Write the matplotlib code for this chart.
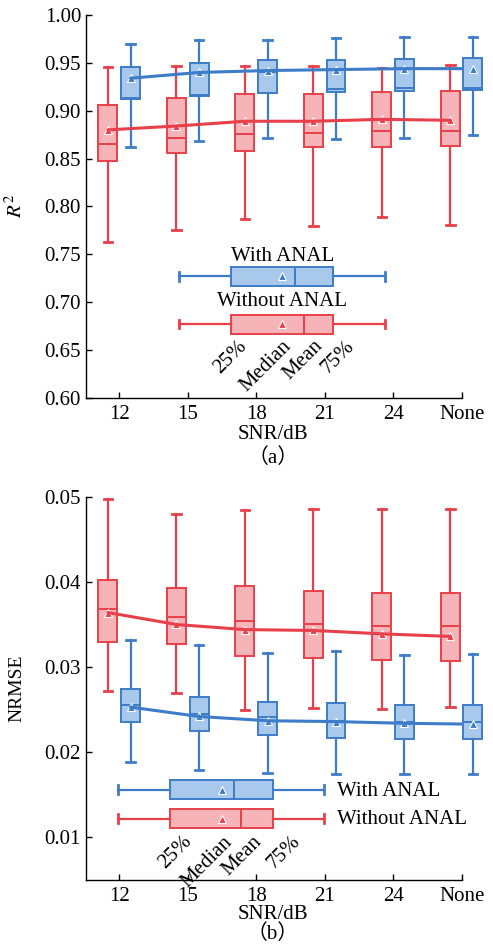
import matplotlib
matplotlib.use('Agg')
import matplotlib.pyplot as plt

plt.rcParams['font.family'] = ['Liberation Serif', 'Noto Sans CJK SC']
plt.rcParams['mathtext.fontset'] = 'stix'

RED = '#E8404A'
RED_FILL = '#F6B3B8'
BLUE = '#3D7CC9'
BLUE_FILL = '#A8C8EC'

snr_labels = ['12', '15', '18', '21', '24', 'None']

# R^2, without ANAL (red)
r2_red_lo = [0.763, 0.775, 0.787, 0.780, 0.789, 0.781]
r2_red_q1 = [0.847, 0.856, 0.858, 0.862, 0.862, 0.863]
r2_red_med = [0.865, 0.872, 0.876, 0.877, 0.879, 0.879]
r2_red_q3 = [0.906, 0.913, 0.917, 0.917, 0.920, 0.921]
r2_red_hi = [0.946, 0.947, 0.947, 0.947, 0.945, 0.948]
r2_red_mean = [0.880, 0.884, 0.889, 0.889, 0.891, 0.890]

# R^2, with ANAL (blue)
r2_blue_lo = [0.862, 0.868, 0.872, 0.870, 0.872, 0.875]
r2_blue_q1 = [0.912, 0.915, 0.919, 0.920, 0.921, 0.922]
r2_blue_med = [0.913, 0.916, 0.941, 0.923, 0.924, 0.924]
r2_blue_q3 = [0.946, 0.950, 0.953, 0.953, 0.954, 0.955]
r2_blue_hi = [0.970, 0.974, 0.974, 0.976, 0.977, 0.977]
r2_blue_mean = [0.934, 0.940, 0.942, 0.943, 0.944, 0.944]

# NRMSE, without ANAL (red)
nr_red_lo = [0.0272, 0.0269, 0.0250, 0.0252, 0.0251, 0.0253]
nr_red_q1 = [0.0329, 0.0327, 0.0313, 0.0311, 0.0308, 0.0307]
nr_red_med = [0.0368, 0.0359, 0.0354, 0.0350, 0.0348, 0.0348]
nr_red_q3 = [0.0402, 0.0393, 0.0395, 0.0389, 0.0387, 0.0387]
nr_red_hi = [0.0497, 0.0480, 0.0484, 0.0486, 0.0486, 0.0485]
nr_red_mean = [0.0364, 0.0350, 0.0344, 0.0343, 0.0339, 0.0336]

# NRMSE, with ANAL (blue)
nr_blue_lo = [0.0188, 0.0179, 0.0176, 0.0174, 0.0175, 0.0174]
nr_blue_q1 = [0.0235, 0.0225, 0.0220, 0.0217, 0.0216, 0.0215]
nr_blue_med = [0.0256, 0.0245, 0.0241, 0.0237, 0.0236, 0.0236]
nr_blue_q3 = [0.0274, 0.0265, 0.0259, 0.0258, 0.0256, 0.0255]
nr_blue_hi = [0.0332, 0.0326, 0.0317, 0.0319, 0.0314, 0.0315]
nr_blue_mean = [0.0253, 0.0242, 0.0237, 0.0236, 0.0234, 0.0233]

# legend key boxes (x in category units): lo, q1, med, mean, q3, hi
key_a_blue = [0.876, 1.626, 2.56, 2.38, 3.124, 3.879]
key_a_red = [0.876, 1.626, 2.70, 2.38, 3.124, 3.879]
key_b_blue = [-0.015, 0.74, 1.674, 1.495, 2.24, 2.99]
key_b_red = [-0.015, 0.74, 1.772, 1.495, 2.24, 2.99]
key_names = ['25%', 'Median', 'Mean', '75%']

FS = 15
OFF = 0.165
BW = 0.277


def _stats(lo, q1, med, q3, hi, mean):
    return [dict(whislo=a, q1=b, med=c, q3=d, whishi=e, mean=f)
            for a, b, c, d, e, f in zip(lo, q1, med, q3, hi, mean)]


def _draw(ax, positions, stats, color, fill, width, orientation='vertical', zorder=3):
    art = ax.bxp(stats, positions=positions, widths=width, patch_artist=True,
                 showmeans=True, showfliers=False, orientation=orientation,
                 manage_ticks=False,
                 boxprops=dict(facecolor=fill, edgecolor=color, linewidth=1.4),
                 medianprops=dict(color=color, linewidth=1.4),
                 whiskerprops=dict(color=color, linewidth=1.6),
                 capprops=dict(color=color, linewidth=2.0),
                 meanprops=dict(marker='^', markerfacecolor=color, markeredgecolor='white',
                                markeredgewidth=0.8, markersize=5.5),
                 capwidths=width * 0.45)
    for items in art.values():
        for a in items:
            a.set_clip_on(False)
            a.set_zorder(zorder)
    return art


def _key(ax, vals, y, color, fill, height):
    lo, q1, med, mean, q3, hi = vals
    st = [dict(whislo=lo, q1=q1, med=med, q3=q3, whishi=hi, mean=mean)]
    _draw(ax, [y], st, color, fill, height, orientation='horizontal')


def _style(ax):
    for s in ['top', 'right']:
        ax.spines[s].set_visible(False)
    for s in ['left', 'bottom']:
        ax.spines[s].set_linewidth(1.0)
    ax.tick_params(direction='in', length=4, width=1.0, labelsize=FS)
    ax.tick_params(axis='x', pad=5)
    ax.tick_params(axis='y', pad=3.5)
    ax.set_xlim(-0.486, 5)
    ax.set_xticks(range(len(snr_labels)))
    ax.set_xticklabels(snr_labels)


fig = plt.figure(figsize=(4.93, 9.47), dpi=100)
ax1 = fig.add_axes([0.1744, 0.580, 0.762, 0.4041])
ax2 = fig.add_axes([0.1744, 0.0707, 0.762, 0.4048])

x = list(range(len(snr_labels)))
xr = [i - OFF for i in x]
xb = [i + OFF for i in x]

# (a) R^2
_draw(ax1, xr, _stats(r2_red_lo, r2_red_q1, r2_red_med, r2_red_q3, r2_red_hi, r2_red_mean), RED, RED_FILL, BW)
_draw(ax1, xb, _stats(r2_blue_lo, r2_blue_q1, r2_blue_med, r2_blue_q3, r2_blue_hi, r2_blue_mean), BLUE, BLUE_FILL, BW)
ax1.plot(xr, r2_red_mean, color=RED, lw=2.2, zorder=4, solid_capstyle='round')
ax1.plot(xb, r2_blue_mean, color=BLUE, lw=2.2, zorder=4, solid_capstyle='round')
_style(ax1)
ax1.set_ylim(0.60, 1.00)
ax1.set_yticks([0.60, 0.65, 0.70, 0.75, 0.80, 0.85, 0.90, 0.95, 1.00])
ax1.set_yticklabels([f'{v:.2f}' for v in ax1.get_yticks()])
_key(ax1, key_a_blue, 0.727, BLUE, BLUE_FILL, 0.0199)
_key(ax1, key_a_red, 0.677, RED, RED_FILL, 0.0199)
ax1.text(2.38, 0.748, 'With ANAL', fontsize=FS, ha='center', va='center')
ax1.text(2.38, 0.701, 'Without ANAL', fontsize=FS, ha='center', va='center')
for name, xp in zip(key_names, [1.72, 2.37, 2.84, 3.29]):
    ax1.text(xp, 0.664, name, fontsize=FS, rotation=45, rotation_mode='anchor',
             ha='right', va='top')
ax1.set_ylabel(r'$R^2$', fontsize=FS)
ax1.yaxis.set_label_coords(-0.157, 0.5)
ax1.set_xlabel('SNR/dB', fontsize=FS)
ax1.xaxis.set_label_coords(0.497, -0.072)
ax1.text(0.497, -0.158, '（a）', transform=ax1.transAxes, fontsize=FS,
         ha='center', va='center')

# (b) NRMSE
_draw(ax2, xr, _stats(nr_red_lo, nr_red_q1, nr_red_med, nr_red_q3, nr_red_hi, nr_red_mean), RED, RED_FILL, BW)
_draw(ax2, xb, _stats(nr_blue_lo, nr_blue_q1, nr_blue_med, nr_blue_q3, nr_blue_hi, nr_blue_mean), BLUE, BLUE_FILL, BW)
ax2.plot(xr, nr_red_mean, color=RED, lw=2.2, zorder=4, solid_capstyle='round')
ax2.plot(xb, nr_blue_mean, color=BLUE, lw=2.2, zorder=4, solid_capstyle='round')
_style(ax2)
ax2.set_ylim(0.005, 0.05)
ax2.set_yticks([0.01, 0.02, 0.03, 0.04, 0.05])
ax2.set_yticklabels([f'{v:.2f}' for v in ax2.get_yticks()])
_key(ax2, key_b_blue, 0.0156, BLUE, BLUE_FILL, 0.00224)
_key(ax2, key_b_red, 0.0122, RED, RED_FILL, 0.00224)
ax2.text(3.18, 0.01545, 'With ANAL', fontsize=FS, ha='left', va='center')
ax2.text(3.18, 0.0121, 'Without ANAL', fontsize=FS, ha='left', va='center')
for name, xp in zip(key_names, [0.92, 1.51, 1.94, 2.50]):
    ax2.text(xp, 0.0106, name, fontsize=FS, rotation=45, rotation_mode='anchor',
             ha='right', va='top')
ax2.set_ylabel('NRMSE', fontsize=14)
ax2.yaxis.set_label_coords(-0.162, 0.5)
ax2.set_xlabel('SNR/dB', fontsize=FS)
ax2.xaxis.set_label_coords(0.497, -0.064)
ax2.text(0.497, -0.140, '（b）', transform=ax2.transAxes, fontsize=FS,
         ha='center', va='center')

fig.savefig('out.png', dpi=100)
